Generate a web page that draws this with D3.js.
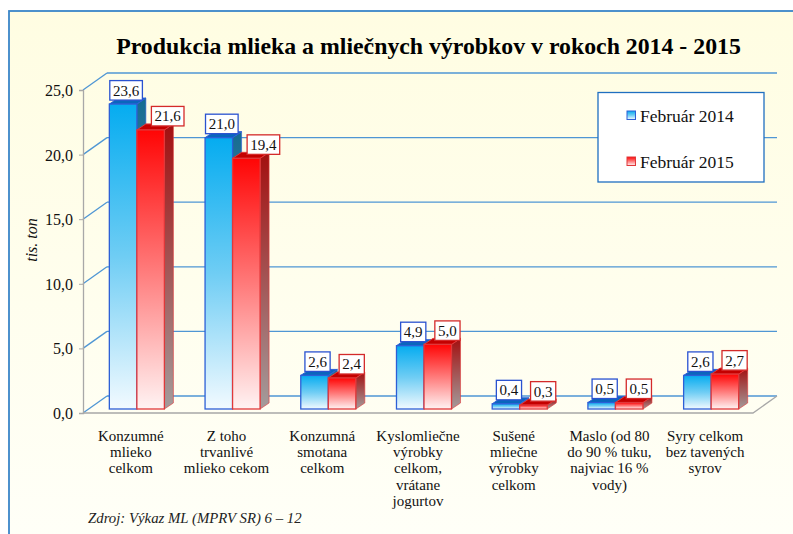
<!DOCTYPE html>
<html><head><meta charset="utf-8">
<script src="https://cdn.jsdelivr.net/npm/d3@7"></script>
<style>html,body{margin:0;padding:0;background:#fff;}svg{display:block;} svg text{font-family:"Liberation Serif","Times New Roman",serif;}</style>
</head><body>
<script>
const title = "Produkcia mlieka a mliečnych výrobkov v rokoch 2014 - 2015";
const categories = [
  ["Konzumné","mlieko","celkom"],
  ["Z toho","trvanlivé","mlieko cekom"],
  ["Konzumná","smotana","celkom"],
  ["Kyslomliečne","výrobky","celkom,","vrátane","jogurtov"],
  ["Sušené","mliečne","výrobky","celkom"],
  ["Maslo (od 80","do 90 % tuku,","najviac 16 %","vody)"],
  ["Syry celkom","bez tavených","syrov"]
];
const seriesNames = ["Február 2014","Február 2015"];
const values2014 = [23.6, 21.0, 2.6, 4.9, 0.4, 0.5, 2.6];
const values2015 = [21.6, 19.4, 2.4, 5.0, 0.3, 0.5, 2.7];
const yTicks = [0,5,10,15,20,25];
const yTitle = "tis. ton";
const source = "Zdroj: Výkaz ML (MPRV SR) 6 – 12";

const W = 793, H = 534;
const FF = "'Liberation Serif','Times New Roman',serif";
const svg = d3.select("body").append("svg").attr("width", W).attr("height", H);
const defs = svg.append("defs");
function lg(id, stops, x2=0, y2=1){
  const g = defs.append("linearGradient").attr("id", id).attr("x1",0).attr("y1",0).attr("x2",x2).attr("y2",y2);
  stops.forEach(s=>g.append("stop").attr("offset",s[0]).attr("stop-color",s[1]));
}
lg("bg", [[0,"#fffde2"],[1,"#fffff8"]]);
lg("blueFront", [[0,"#05acf0"],[0.5,"#6fcdf4"],[1,"#f2faff"]]);
lg("redFront", [[0,"#ff0505"],[0.5,"#ff7a7a"],[1,"#fff3f3"]]);
lg("blueSide", [[0,"#146c92"],[1,"#9aa6ad"]]);
lg("redSide", [[0,"#a30f0f"],[1,"#a39c9c"]]);

const sty = {
  blue:{front:"url(#blueFront)", side:"url(#blueSide)", top:"#0a66bd", stroke:"#2d5fd6"},
  red:{front:"url(#redFront)", side:"url(#redSide)", top:"#c40000", stroke:"#e0383a"}
};

// frame
svg.append("rect").attr("x",9).attr("y",11).attr("width",800).attr("height",540)
  .attr("fill","url(#bg)").attr("stroke","#3a86c8").attr("stroke-width",1.8);

// title
svg.append("text").attr("x",428.5).attr("y",53.5).attr("text-anchor","middle")
  .style("font-family",FF).attr("font-weight","bold").attr("font-size",23.8)
  .attr("fill","#000").text(title);

// geometry
const x0 = 83, x1 = 753, dX = 24, dY = 17;
const yFront = d3.scaleLinear().domain([0,25]).range([413,90]);
const yBack = d3.scaleLinear().domain([0,25]).range([396,73]);
const yBar = d3.scaleLinear().domain([0,25]).range([409,86]);
const xBand = d3.scaleBand().domain(d3.range(categories.length)).range([x0,x1]);
const xBar = d3.scaleBand().domain(d3.range(categories.length)).range([x0+6,x1+6]).paddingInner(0.425).paddingOuter(0.2125);
const xSub = d3.scaleBand().domain([0,1]).range([0,xBar.bandwidth()]);

// gridlines (back wall + left wall diagonals)
const grid = svg.append("g").attr("stroke","#4f96d4").attr("stroke-width",1.3).attr("fill","none");
yTicks.forEach(t=>{
  grid.append("line").attr("x1",x0+dX).attr("x2",x1+dX).attr("y1",yBack(t)).attr("y2",yBack(t));
  grid.append("line").attr("x1",x0).attr("x2",x0+dX).attr("y1",yFront(t)).attr("y2",yBack(t));
});
// floor front edge and right edge
svg.append("path").attr("d",`M${x0},${yFront(0)}H${x1}L${x1+dX},${yBack(0)}`)
  .attr("fill","none").attr("stroke","#a8a8a8").attr("stroke-width",1.3);

// y axis
const yAxis = d3.axisLeft(yFront).tickValues(yTicks).tickSize(4).tickPadding(6)
  .tickFormat(d=>d3.format(".1f")(d).replace(".",","));
const ag = svg.append("g").attr("transform",`translate(${x0},0)`).call(yAxis);
ag.attr("font-family", null);
ag.select(".domain").attr("stroke","#a8a8a8").attr("stroke-width",1.3);
ag.selectAll(".tick line").attr("stroke","#a8a8a8");
ag.selectAll(".tick text").style("font-family",FF).attr("font-size",16).attr("fill","#111").attr("dy","0.34em");

svg.append("text").attr("transform","translate(37,240) rotate(-90)").attr("text-anchor","middle")
  .style("font-family",FF).attr("font-style","italic").attr("font-size",16)
  .attr("fill","#111").text(yTitle);

// bars
const bd = 9, bdy = 6;
const barsG = svg.append("g");
const fmt = v=>d3.format(".1f")(v).replace(".",",");
categories.forEach((c,i)=>{
  [values2014[i], values2015[i]].forEach((v,s)=>{
    const st = s===0 ? sty.blue : sty.red;
    const x = xBar(i) + xSub(s), w = xSub.bandwidth();
    const top = yBar(v), bot = yBar(0);
    const g = barsG.append("g");
    g.append("path").attr("d",`M${x+w},${top}L${x+w+bd},${top-bdy}V${bot-bdy}L${x+w},${bot}Z`)
      .attr("fill",st.side).attr("stroke",st.stroke).attr("stroke-width",1).attr("stroke-opacity",0.6);
    g.append("path").attr("d",`M${x},${top}L${x+bd},${top-bdy}H${x+w+bd}L${x+w},${top}Z`)
      .attr("fill",st.top).attr("stroke",st.stroke).attr("stroke-width",1);
    g.append("rect").attr("x",x).attr("y",top).attr("width",w).attr("height",bot-top)
      .attr("fill",st.front).attr("stroke",st.stroke).attr("stroke-width",1.3);
  });
});

// value labels
const lblG = svg.append("g");
categories.forEach((c,i)=>{
  let prevRight = null;
  [values2014[i], values2015[i]].forEach((v,s)=>{
    const cx = xBar(i) + xSub(s) + xSub.bandwidth()/2;
    const txt = fmt(v);
    const bw = txt.length*7.4 + 3, bh = 19.5;
    let bx = s===0 ? cx + 3 - bw/2 : Math.max(cx + 9 - bw/2, prevRight + 9);
    const by = yBar(v) - 4 - bh;
    lblG.append("rect").attr("x",bx).attr("y",by).attr("width",bw).attr("height",bh)
      .attr("fill","#fff").attr("stroke", s===0 ? "#2a52d0" : "#d42a2a").attr("stroke-width",1.3);
    lblG.append("text").attr("x",bx+bw/2).attr("y",by+bh/2+5.2).attr("text-anchor","middle")
      .style("font-family",FF).attr("font-size",15).attr("fill","#111").text(txt);
    prevRight = bx + bw;
  });
});

// category labels
const catG = svg.append("g").attr("font-size",15).attr("fill","#111").attr("text-anchor","middle");
categories.forEach((lines,i)=>{
  const cx = xBand(i)+xBand.bandwidth()/2;
  const t = catG.append("text").attr("x", cx).attr("y",441).style("font-family",FF);
  lines.forEach((l,k)=>t.append("tspan").attr("x", cx).attr("dy", k===0?0:16.2).text(l));
});

// legend
const leg = svg.append("g");
leg.append("rect").attr("x",598).attr("y",92.5).attr("width",166).attr("height",89.5)
  .attr("fill","#fff").attr("stroke","#1f6fc0").attr("stroke-width",1.3);
seriesNames.forEach((n,k)=>{
  const st = k===0 ? sty.blue : sty.red;
  const yy = 111 + k*46;
  leg.append("rect").attr("x",627).attr("y",yy).attr("width",8.5).attr("height",8.5)
    .attr("fill",st.front).attr("stroke",st.stroke).attr("stroke-width",1);
  leg.append("text").attr("x",640).attr("y",yy+10.5).style("font-family",FF)
    .attr("font-size",17.5).attr("fill","#111").text(n);
});

// source
svg.append("text").attr("x",88).attr("y",523).style("font-family",FF)
  .attr("font-style","italic").attr("font-size",14.8).attr("fill","#222").text(source);
</script>
</body></html>
